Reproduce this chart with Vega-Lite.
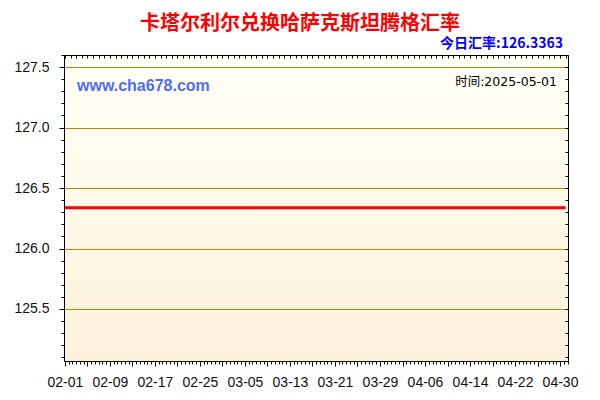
{
  "$schema": "https://vega.github.io/schema/vega-lite/v6.json",
  "width": 504,
  "height": 306,
  "autosize": "none",
  "padding": {"left": 64, "top": 55, "right": 32, "bottom": 39},
  "background": "white",
  "title": {
    "text": "卡塔尔利尔兑换哈萨克斯坦腾格汇率",
    "font": "Noto Sans CJK SC",
    "fontSize": 20,
    "fontWeight": "bold",
    "color": "#FF0000",
    "anchor": "middle",
    "frame": "group",
    "baseline": "alphabetic",
    "dx": -16,
    "offset": -13
  },
  "config": {
    "view": {"stroke": null},
    "axis": {
      "labelFont": "Liberation Sans",
      "labelFontSize": 14,
      "labelColor": "#111111",
      "domainColor": "#000000",
      "tickColor": "#000000",
      "title": null
    }
  },
  "data": {
    "values": [
      {"date": "2025-02-01", "rate": 126.3363}, {"date": "2025-02-02", "rate": 126.3363},
      {"date": "2025-02-03", "rate": 126.3363}, {"date": "2025-02-04", "rate": 126.3363},
      {"date": "2025-02-05", "rate": 126.3363}, {"date": "2025-02-06", "rate": 126.3363},
      {"date": "2025-02-07", "rate": 126.3363}, {"date": "2025-02-08", "rate": 126.3363},
      {"date": "2025-02-09", "rate": 126.3363}, {"date": "2025-02-10", "rate": 126.3363},
      {"date": "2025-02-11", "rate": 126.3363}, {"date": "2025-02-12", "rate": 126.3363},
      {"date": "2025-02-13", "rate": 126.3363}, {"date": "2025-02-14", "rate": 126.3363},
      {"date": "2025-02-15", "rate": 126.3363}, {"date": "2025-02-16", "rate": 126.3363},
      {"date": "2025-02-17", "rate": 126.3363}, {"date": "2025-02-18", "rate": 126.3363},
      {"date": "2025-02-19", "rate": 126.3363}, {"date": "2025-02-20", "rate": 126.3363},
      {"date": "2025-02-21", "rate": 126.3363}, {"date": "2025-02-22", "rate": 126.3363},
      {"date": "2025-02-23", "rate": 126.3363}, {"date": "2025-02-24", "rate": 126.3363},
      {"date": "2025-02-25", "rate": 126.3363}, {"date": "2025-02-26", "rate": 126.3363},
      {"date": "2025-02-27", "rate": 126.3363}, {"date": "2025-02-28", "rate": 126.3363},
      {"date": "2025-03-01", "rate": 126.3363}, {"date": "2025-03-02", "rate": 126.3363},
      {"date": "2025-03-03", "rate": 126.3363}, {"date": "2025-03-04", "rate": 126.3363},
      {"date": "2025-03-05", "rate": 126.3363}, {"date": "2025-03-06", "rate": 126.3363},
      {"date": "2025-03-07", "rate": 126.3363}, {"date": "2025-03-08", "rate": 126.3363},
      {"date": "2025-03-09", "rate": 126.3363}, {"date": "2025-03-10", "rate": 126.3363},
      {"date": "2025-03-11", "rate": 126.3363}, {"date": "2025-03-12", "rate": 126.3363},
      {"date": "2025-03-13", "rate": 126.3363}, {"date": "2025-03-14", "rate": 126.3363},
      {"date": "2025-03-15", "rate": 126.3363}, {"date": "2025-03-16", "rate": 126.3363},
      {"date": "2025-03-17", "rate": 126.3363}, {"date": "2025-03-18", "rate": 126.3363},
      {"date": "2025-03-19", "rate": 126.3363}, {"date": "2025-03-20", "rate": 126.3363},
      {"date": "2025-03-21", "rate": 126.3363}, {"date": "2025-03-22", "rate": 126.3363},
      {"date": "2025-03-23", "rate": 126.3363}, {"date": "2025-03-24", "rate": 126.3363},
      {"date": "2025-03-25", "rate": 126.3363}, {"date": "2025-03-26", "rate": 126.3363},
      {"date": "2025-03-27", "rate": 126.3363}, {"date": "2025-03-28", "rate": 126.3363},
      {"date": "2025-03-29", "rate": 126.3363}, {"date": "2025-03-30", "rate": 126.3363},
      {"date": "2025-03-31", "rate": 126.3363}, {"date": "2025-04-01", "rate": 126.3363},
      {"date": "2025-04-02", "rate": 126.3363}, {"date": "2025-04-03", "rate": 126.3363},
      {"date": "2025-04-04", "rate": 126.3363}, {"date": "2025-04-05", "rate": 126.3363},
      {"date": "2025-04-06", "rate": 126.3363}, {"date": "2025-04-07", "rate": 126.3363},
      {"date": "2025-04-08", "rate": 126.3363}, {"date": "2025-04-09", "rate": 126.3363},
      {"date": "2025-04-10", "rate": 126.3363}, {"date": "2025-04-11", "rate": 126.3363},
      {"date": "2025-04-12", "rate": 126.3363}, {"date": "2025-04-13", "rate": 126.3363},
      {"date": "2025-04-14", "rate": 126.3363}, {"date": "2025-04-15", "rate": 126.3363},
      {"date": "2025-04-16", "rate": 126.3363}, {"date": "2025-04-17", "rate": 126.3363},
      {"date": "2025-04-18", "rate": 126.3363}, {"date": "2025-04-19", "rate": 126.3363},
      {"date": "2025-04-20", "rate": 126.3363}, {"date": "2025-04-21", "rate": 126.3363},
      {"date": "2025-04-22", "rate": 126.3363}, {"date": "2025-04-23", "rate": 126.3363},
      {"date": "2025-04-24", "rate": 126.3363}, {"date": "2025-04-25", "rate": 126.3363},
      {"date": "2025-04-26", "rate": 126.3363}, {"date": "2025-04-27", "rate": 126.3363},
      {"date": "2025-04-28", "rate": 126.3363}, {"date": "2025-04-29", "rate": 126.3363},
      {"date": "2025-04-30", "rate": 126.3363}, {"date": "2025-05-01", "rate": 126.3363}
    ]
  },
  "layer": [
    {
      "data": {"values": [{"area": "plot"}]},
      "mark": {
        "type": "rect",
        "color": {
          "gradient": "linear",
          "x1": 0, "y1": 0, "x2": 0, "y2": 1,
          "stops": [
            {"offset": 0, "color": "#FFFFF6"},
            {"offset": 1, "color": "#FDF1DA"}
          ]
        }
      },
      "encoding": {
        "x": {"value": 0},
        "x2": {"value": "width"},
        "y": {"value": 0},
        "y2": {"value": "height"}
      }
    },
    {
      "mark": {"type": "line", "color": "#FF0000", "strokeWidth": 3},
      "encoding": {
        "x": {
          "field": "date",
          "type": "temporal",
          "scale": {"type": "utc", "domain": [1738353600000, 1746093600000]},
          "axis": {
            "orient": "bottom",
            "zindex": 1,
            "values": {"expr": "sequence(1738368000000, 1746093600000, 57600000)"},
            "labelExpr": "(datum.value - 1738368000000) % 691200000 == 0 ? utcFormat(datum.value, '%m-%d') : ''",
            "tickSize": {"condition": {"test": "(datum.value - 1738368000000) % 345600000 == 0", "value": 5}, "value": 3},
            "labelPadding": 9,
            "labelOverlap": false,
            "labelFlush": false,
            "labelBound": false,
            "labelAngle": 0,
            "grid": false
          }
        },
        "y": {
          "field": "rate",
          "type": "quantitative",
          "scale": {"domain": [125.07, 127.6], "nice": false, "zero": false},
          "axis": {
            "orient": "left",
            "zindex": 1,
            "values": [125.1, 125.2, 125.3, 125.4, 125.5, 125.6, 125.7, 125.8, 125.9, 126.0, 126.1, 126.2, 126.3, 126.4, 126.5, 126.6, 126.7, 126.8, 126.9, 127.0, 127.1, 127.2, 127.3, 127.4, 127.5, 127.6],
            "labelExpr": "abs(datum.value * 2 - round(datum.value * 2)) < 0.001 ? format(datum.value, '.1f') : ''",
            "tickSize": {"condition": {"test": "abs(datum.value * 2 - round(datum.value * 2)) < 0.001", "value": 5}, "value": 3},
            "labelPadding": 10,
            "labelOverlap": false,
            "labelBound": false,
            "labelFlush": false,
            "grid": true,
            "gridColor": {"condition": {"test": "abs(datum.value * 2 - round(datum.value * 2)) < 0.001", "value": "#B8860B"}, "value": "transparent"},
            "gridWidth": 1,
            "gridOpacity": 1
          }
        }
      }
    },
    {
      "mark": {"type": "line", "opacity": 0},
      "encoding": {
        "x": {
          "field": "date",
          "type": "temporal",
          "scale": {"type": "utc", "domain": [1738353600000, 1746093600000]},
          "axis": {
            "orient": "top",
            "zindex": 1,
            "values": {"expr": "sequence(1738368000000, 1746093600000, 86400000)"},
            "labels": false,
            "tickSize": -3,
            "grid": false
          }
        },
        "y": {
          "field": "rate",
          "type": "quantitative",
          "scale": {"domain": [125.07, 127.6], "nice": false, "zero": false},
          "axis": {
            "orient": "right",
            "zindex": 1,
            "values": [125.1, 125.2, 125.3, 125.4, 125.5, 125.6, 125.7, 125.8, 125.9, 126.0, 126.1, 126.2, 126.3, 126.4, 126.5, 126.6, 126.7, 126.8, 126.9, 127.0, 127.1, 127.2, 127.3, 127.4, 127.5, 127.6],
            "labels": false,
            "tickSize": -3,
            "grid": false
          }
        }
      }
    },
    {
      "data": {"values": [{"label": "www.cha678.com"}]},
      "mark": {
        "type": "text",
        "font": "Liberation Sans",
        "fontSize": 16,
        "fontWeight": "bold",
        "color": "#4F6CF0",
        "align": "left",
        "baseline": "alphabetic"
      },
      "encoding": {
        "text": {"field": "label"},
        "x": {"value": 13},
        "y": {"value": 35.5}
      }
    },
    {
      "data": {"values": [{"label": "时间:2025-05-01"}]},
      "mark": {
        "type": "text",
        "font": "DejaVu Sans, Noto Sans CJK SC",
        "fontSize": 12.5,
        "color": "#000000",
        "align": "right",
        "baseline": "alphabetic",
        "dx": -11
      },
      "encoding": {
        "text": {"field": "label"},
        "x": {"value": "width"},
        "y": {"value": 30.5}
      }
    },
    {
      "data": {"values": [{"label": "今日汇率:126.3363"}]},
      "mark": {
        "type": "text",
        "font": "Noto Sans CJK SC",
        "fontSize": 14,
        "fontWeight": "bold",
        "color": "#0000FF",
        "align": "right",
        "baseline": "alphabetic",
        "dx": -5
      },
      "encoding": {
        "text": {"field": "label"},
        "x": {"value": "width"},
        "y": {"value": -7}
      }
    }
  ],
  "resolve": {"axis": {"x": "independent", "y": "independent"}}
}
